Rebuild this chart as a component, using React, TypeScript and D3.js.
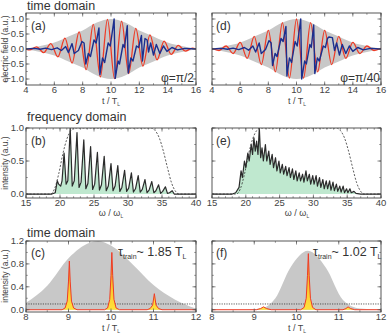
import React from 'react';
import * as d3 from 'd3';

type Pt = [number, number];

// ---- time domain, field (a) / (d) ----
const envelope: Pt[] = [
  [4, 0.02], [4.5, 0.05], [5, 0.1], [5.5, 0.15], [6, 0.22], [6.5, 0.31], [7, 0.42], [7.5, 0.52],
  [8, 0.62], [8.5, 0.76], [9, 0.88], [9.5, 0.97], [10, 1.0], [10.5, 0.97], [11, 0.88], [11.5, 0.76],
  [12, 0.62], [12.5, 0.52], [13, 0.42], [13.5, 0.31], [14, 0.22], [14.5, 0.15], [15, 0.1], [15.5, 0.05], [16, 0.02],
];

// driving field, extrema only (phi = pi/2)
const redA: Pt[] = [
  [4, 0], [4.25, -0.03], [4.75, 0.07], [5.25, -0.12], [5.75, 0.18], [6.25, -0.26], [6.75, 0.36], [7.25, -0.47],
  [7.75, 0.57], [8.25, -0.69], [8.75, 0.82], [9.25, -0.93], [9.75, 0.99], [10.25, -0.99], [10.75, 0.93],
  [11.25, -0.82], [11.75, 0.69], [12.25, -0.57], [12.75, 0.47], [13.25, -0.36], [13.75, 0.26], [14.25, -0.18],
  [14.75, 0.12], [15.25, -0.07], [15.75, 0.03], [16, 0],
];

// driving field, extrema only (phi = pi/40)
const redD: Pt[] = [
  [4, 0.02], [4.5, -0.05], [5, 0.1], [5.5, -0.15], [6, 0.22], [6.5, -0.31], [7, 0.42], [7.5, -0.52],
  [8, 0.62], [8.5, -0.76], [9, 0.88], [9.5, -0.97], [10, 1.0], [10.5, -0.97], [11, 0.88], [11.5, -0.76],
  [12, 0.62], [12.5, -0.52], [13, 0.42], [13.5, -0.31], [14, 0.22], [14.5, -0.15], [15, 0.1], [15.5, -0.05], [16, 0.02],
];

const blueA: Pt[] = [
  [4, 0], [4.6, 0.02], [5.0, -0.01], [5.4, 0.03], [5.8, -0.02], [6.2, 0.04], [6.5, -0.05], [6.8, 0.08],
  [7.0, -0.12], [7.25, 0.18], [7.4, -0.15], [7.7, -0.05], [7.95, 0.25], [8.1, 0.2], [8.22, -0.5], [8.4, -0.15],
  [8.55, -0.25], [8.8, 0.3], [8.95, 0.2], [9.15, 0.7], [9.22, -0.85], [9.4, -0.3], [9.55, -0.45], [9.8, 0.2],
  [9.95, 0.1], [10.22, 1.0], [10.3, -0.98], [10.5, -0.4], [10.6, -0.5], [10.85, 0.15], [10.95, 0.05],
  [11.15, 0.78], [11.22, -0.8], [11.4, -0.3], [11.55, -0.4], [11.8, 0.1], [11.95, 0.05], [12.15, 0.45],
  [12.22, -0.4], [12.4, 0.35], [12.55, 0.3], [12.65, -0.1], [12.8, 0.2], [13.0, -0.2], [13.2, 0.15],
  [13.45, -0.15], [13.7, 0.1], [13.95, -0.08], [14.3, 0.05], [14.7, -0.03], [15.2, 0.02], [16, 0],
];

const blueD: Pt[] = [
  [4, 0], [4.7, 0.02], [5.1, -0.01], [5.5, 0.03], [5.9, -0.02], [6.3, 0.05], [6.6, -0.04], [6.9, 0.1],
  [7.1, -0.1], [7.35, 0.2], [7.5, -0.15], [7.8, -0.02], [8.05, 0.28], [8.2, 0.2], [8.3, -0.55], [8.48, -0.15],
  [8.62, -0.25], [8.9, 0.35], [9.05, 0.25], [9.25, 0.75], [9.32, -0.9], [9.5, -0.3], [9.65, -0.45], [9.9, 0.25],
  [10.05, 0.1], [10.3, 1.0], [10.37, -1.0], [10.58, -0.4], [10.7, -0.5], [10.95, 0.15], [11.05, 0.05],
  [11.22, 0.8], [11.3, -0.82], [11.48, -0.3], [11.62, -0.4], [11.9, 0.1], [12.05, 0.05], [12.2, 0.35],
  [12.3, 0.4], [12.55, 0.38], [12.7, -0.05], [12.85, 0.2], [13.05, -0.2], [13.25, 0.15], [13.5, -0.15],
  [13.75, 0.1], [14.0, -0.08], [14.35, 0.05], [14.75, -0.03], [15.25, 0.02], [16, 0],
];

// ---- frequency domain (b) / (e) ----
const filterCurve: Pt[] = [
  [15, 0], [18.6, 0], [19.2, 0.08], [19.8, 0.3], [20.4, 0.6], [21, 0.83], [21.6, 0.96], [22.2, 1.0],
  [33.4, 1.0], [34, 0.96], [34.6, 0.85], [35.2, 0.65], [35.8, 0.4], [36.4, 0.17], [37, 0.04], [37.5, 0], [40, 0],
];

const spectrumB: Pt[] = [
  [15, 0], [18.8, 0], [19.3, 0.02], [19.6, 0.2], [19.8, 0.15], [20.1, 0.12], [20.3, 0.2], [20.6, 0.62],
  [20.9, 0.15], [21.15, 0.2], [21.5, 1.0], [21.8, 0.12], [22.1, 0.2], [22.5, 0.93], [22.8, 0.1], [23.1, 0.18],
  [23.5, 0.82], [23.8, 0.08], [24.1, 0.16], [24.5, 0.72], [24.8, 0.07], [25.1, 0.15], [25.5, 0.63],
  [25.8, 0.06], [26.1, 0.14], [26.5, 0.57], [26.8, 0.05], [27.1, 0.12], [27.5, 0.46], [27.8, 0.05],
  [28.1, 0.12], [28.5, 0.43], [28.8, 0.04], [29.1, 0.1], [29.5, 0.36], [29.8, 0.04], [30.1, 0.09],
  [30.5, 0.32], [30.8, 0.03], [31.1, 0.08], [31.5, 0.28], [31.8, 0.03], [32.1, 0.07], [32.5, 0.22],
  [32.8, 0.02], [33.1, 0.06], [33.5, 0.19], [33.8, 0.02], [34.1, 0.05], [34.5, 0.14], [34.8, 0.01],
  [35.1, 0.04], [35.5, 0.11], [35.8, 0.01], [36.1, 0.02], [36.5, 0.05], [36.8, 0], [40, 0],
];

const spectrumE: Pt[] = [
  [15, 0], [18, 0], [18.5, 0.02], [19.0, 0.1], [19.3, 0.35], [19.5, 0.25], [19.8, 0.5], [20.0, 0.4],
  [20.3, 0.62], [20.5, 0.5], [20.8, 0.75], [21.0, 0.6], [21.2, 0.85], [21.4, 0.65], [21.6, 0.8], [21.8, 0.6],
  [22.0, 1.0], [22.2, 0.55], [22.4, 0.7], [22.6, 0.5], [22.9, 0.75], [23.1, 0.5], [23.4, 0.65], [23.6, 0.45],
  [23.9, 0.6], [24.1, 0.4], [24.4, 0.55], [24.6, 0.35], [24.9, 0.5], [25.1, 0.32], [25.4, 0.45], [25.6, 0.3],
  [25.9, 0.42], [26.1, 0.28], [26.4, 0.4], [26.6, 0.25], [26.9, 0.38], [27.1, 0.22], [27.4, 0.35], [27.6, 0.2],
  [27.9, 0.32], [28.1, 0.2], [28.4, 0.3], [28.6, 0.18], [28.9, 0.35], [29.1, 0.2], [29.4, 0.3], [29.6, 0.15],
  [29.9, 0.28], [30.1, 0.15], [30.4, 0.28], [30.6, 0.12], [30.9, 0.25], [31.1, 0.1], [31.4, 0.22], [31.6, 0.08],
  [31.9, 0.2], [32.1, 0.08], [32.4, 0.2], [32.6, 0.06], [32.9, 0.18], [33.1, 0.05], [33.4, 0.15], [33.6, 0.04],
  [33.9, 0.12], [34.1, 0.03], [34.4, 0.12], [34.6, 0.02], [34.9, 0.08], [35.1, 0.02], [35.4, 0.08], [35.6, 0.02],
  [36.0, 0.04], [36.3, 0.01], [37, 0], [40, 0],
];

// ---- time domain, intensity (c) / (f) ----
const profileC: Pt[] = [
  [8, 0.12], [8.5, 0.42], [9, 0.9], [9.5, 1.17], [9.7, 1.2], [10, 1.12], [10.5, 0.8], [11, 0.43],
  [11.5, 0.18], [12, 0.02],
];
const profileF: Pt[] = [
  [8, 0], [8.8, 0], [9.2, 0.03], [9.5, 0.2], [9.85, 0.73], [10.27, 1.03], [10.7, 0.73], [11.1, 0.17],
  [11.5, 0.02], [12, 0],
];
const trainC: Pt[] = [
  [8, 0], [8.85, 0], [8.92, 0.03], [8.97, 0.15], [9.0, 0.5], [9.02, 0.85], [9.04, 0.5], [9.07, 0.15],
  [9.12, 0.03], [9.2, 0], [9.85, 0], [9.92, 0.03], [9.97, 0.18], [10.0, 0.6], [10.02, 1.0], [10.04, 0.6],
  [10.07, 0.18], [10.12, 0.03], [10.2, 0], [10.85, 0], [10.92, 0.02], [10.98, 0.08], [11.02, 0.28],
  [11.06, 0.08], [11.12, 0.02], [11.2, 0], [12, 0],
];
const trainF: Pt[] = [
  [8, 0], [9.05, 0], [9.15, 0.02], [9.22, 0.05], [9.29, 0.02], [9.4, 0], [10.1, 0], [10.18, 0.04],
  [10.23, 0.2], [10.26, 0.6], [10.28, 0.98], [10.3, 0.6], [10.33, 0.2], [10.38, 0.04], [10.46, 0],
  [11.1, 0], [11.17, 0.02], [11.22, 0.05], [11.28, 0.02], [11.38, 0], [12, 0],
];
const threshold = 0.1;

// tick values
const tTicksField = [4, 6, 8, 10, 12, 14, 16];
const fieldTicks = [-1, -0.5, 0, 0.5, 1];
const freqTicks = [15, 20, 25, 30, 35, 40];
const specTicks = [0, 0.5, 1];
const tTicksTrain = [8, 9, 10, 11, 12];
const intensTicks = [0, 0.4, 0.8, 1.2];

const FONT = '"Liberation Sans", Arial, Helvetica, sans-serif';
const GRAY = '#c8c8c8';
const RED = '#ee3b26';
const BLUE = '#1b2f8f';
const GREEN = '#bfe8cf';

const colL: [number, number] = [26, 196];
const colR: [number, number] = [212, 381];

type FrameProps = {
  id: string;
  x: d3.ScaleLinear<number, number>;
  y: d3.ScaleLinear<number, number>;
  xTicks: number[];
  yTicks: number[];
  xMinorStep: number;
  yMinorStep: number;
  yLabels: boolean;
  xFmt: (v: number) => string;
  yFmt: (v: number) => string;
  children?: React.ReactNode;
};

const Frame: React.FC<FrameProps> = ({ id, x, y, xTicks, yTicks, xMinorStep, yMinorStep, yLabels, xFmt, yFmt, children }) => {
  const [l, r] = x.range();
  const [b, t] = y.range();
  const [xd0, xd1] = x.domain();
  const [yd0, yd1] = y.domain();
  const xMinor = d3.range(Math.ceil(xd0 / xMinorStep) * xMinorStep, xd1 + 1e-9, xMinorStep);
  const yMinor = d3.range(Math.ceil(yd0 / yMinorStep) * yMinorStep, yd1 + 1e-9, yMinorStep);
  const tickCol = '#555';
  return (
    <g>
      <clipPath id={id}>
        <rect x={l} y={t} width={r - l} height={b - t} />
      </clipPath>
      <g clipPath={`url(#${id})`}>{children}</g>
      {xMinor.map((v, i) => (
        <g key={'xm' + i} stroke={tickCol} strokeWidth={0.6}>
          <line x1={x(v)} x2={x(v)} y1={b} y2={b - 1.8} />
          <line x1={x(v)} x2={x(v)} y1={t} y2={t + 1.8} />
        </g>
      ))}
      {yMinor.map((v, i) => (
        <g key={'ym' + i} stroke={tickCol} strokeWidth={0.6}>
          <line x1={l} x2={l + 1.8} y1={y(v)} y2={y(v)} />
          <line x1={r} x2={r - 1.8} y1={y(v)} y2={y(v)} />
        </g>
      ))}
      {xTicks.map((v, i) => (
        <g key={'x' + i}>
          <line x1={x(v)} x2={x(v)} y1={b} y2={b - 3.5} stroke={tickCol} strokeWidth={0.7} />
          <line x1={x(v)} x2={x(v)} y1={t} y2={t + 3.5} stroke={tickCol} strokeWidth={0.7} />
          <text x={x(v)} y={b + 8} textAnchor="middle" fontSize={9.5} fill="#444">{xFmt(v)}</text>
        </g>
      ))}
      {yTicks.map((v, i) => (
        <g key={'y' + i}>
          <line x1={l} x2={l + 3.5} y1={y(v)} y2={y(v)} stroke={tickCol} strokeWidth={0.7} />
          <line x1={r} x2={r - 3.5} y1={y(v)} y2={y(v)} stroke={tickCol} strokeWidth={0.7} />
          {yLabels && (
            <text x={l - 2} y={y(v) + 3.3} textAnchor="end" fontSize={9.5} fill="#444">{yFmt(v)}</text>
          )}
        </g>
      ))}
      <rect x={l} y={t} width={r - l} height={b - t} fill="none" stroke="#444" strokeWidth={0.9} />
    </g>
  );
};

const Sub: React.FC<{ base: string; sub: string; x: number; y: number; size?: number }> = ({ base, sub, x, y, size = 9 }) => (
  <text x={x} y={y} fontSize={size} textAnchor="middle" fill="#444">
    {base}
    <tspan fontSize={size * 0.55} dy={2}>{sub}</tspan>
  </text>
);

const App: React.FC = () => {
  const f1 = d3.format('.1f');
  const fInt = d3.format('d');

  const xA = d3.scaleLinear().domain([4, 16]).range(colL);
  const xD = d3.scaleLinear().domain([4, 16]).range(colR);
  const yTop = d3.scaleLinear().domain([-1.2, 1.2]).range([85, 13]);

  const xB = d3.scaleLinear().domain([15, 40]).range(colL);
  const xE = d3.scaleLinear().domain([15, 40]).range(colR);
  const yMid = d3.scaleLinear().domain([-0.06, 1.0]).range([198, 128]);

  const xC = d3.scaleLinear().domain([8, 12]).range(colL);
  const xF = d3.scaleLinear().domain([8, 12]).range(colR);
  const yBot = d3.scaleLinear().domain([-0.04, 1.2]).range([312, 241]);

  const envArea = (x: d3.ScaleLinear<number, number>) =>
    d3.area<Pt>().x(d => x(d[0])).y0(d => yTop(-d[1])).y1(d => yTop(d[1])).curve(d3.curveMonotoneX)(envelope) || '';
  const smooth = (x: d3.ScaleLinear<number, number>, y: d3.ScaleLinear<number, number>, pts: Pt[]) =>
    d3.line<Pt>().x(d => x(d[0])).y(d => y(d[1])).curve(d3.curveMonotoneX)(pts) || '';
  const straight = (x: d3.ScaleLinear<number, number>, y: d3.ScaleLinear<number, number>, pts: Pt[]) =>
    d3.line<Pt>().x(d => x(d[0])).y(d => y(d[1]))(pts) || '';
  const fill = (x: d3.ScaleLinear<number, number>, y: d3.ScaleLinear<number, number>, pts: Pt[], curve = d3.curveLinear) =>
    d3.area<Pt>().x(d => x(d[0])).y0(y(0)).y1(d => y(d[1])).curve(curve)(pts) || '';

  const fieldPanel = (id: string, x: d3.ScaleLinear<number, number>, red: Pt[], blue: Pt[], yLabels: boolean) => (
    <Frame id={id} x={x} y={yTop} xTicks={tTicksField} yTicks={fieldTicks} xMinorStep={1} yMinorStep={0.25}
      yLabels={yLabels} xFmt={fInt} yFmt={f1}>
      <path d={envArea(x)} fill={GRAY} />
      <path d={smooth(x, yTop, red)} fill="none" stroke={RED} strokeWidth={1.3} />
      <path d={straight(x, yTop, blue)} fill="none" stroke={BLUE} strokeWidth={1.4} strokeLinejoin="round" />
    </Frame>
  );

  const specPanel = (id: string, x: d3.ScaleLinear<number, number>, spec: Pt[], yLabels: boolean) => (
    <Frame id={id} x={x} y={yMid} xTicks={freqTicks} yTicks={specTicks} xMinorStep={1} yMinorStep={0.25}
      yLabels={yLabels} xFmt={fInt} yFmt={f1}>
      <path d={fill(x, yMid, spec)} fill={GREEN} />
      <path d={straight(x, yMid, spec)} fill="none" stroke="#2b2b2b" strokeWidth={1.2} strokeLinejoin="round" />
      <path d={smooth(x, yMid, filterCurve)} fill="none" stroke="#333" strokeWidth={0.8} strokeDasharray="2,1.6" />
    </Frame>
  );

  const trainPanel = (id: string, x: d3.ScaleLinear<number, number>, profile: Pt[], train: Pt[], yLabels: boolean) => (
    <Frame id={id} x={x} y={yBot} xTicks={tTicksTrain} yTicks={intensTicks} xMinorStep={0.5} yMinorStep={0.2}
      yLabels={yLabels} xFmt={fInt} yFmt={f1}>
      <path d={fill(x, yBot, profile, d3.curveMonotoneX)} fill={GRAY} />
      <line x1={x.range()[0]} x2={x.range()[1]} y1={yBot(threshold)} y2={yBot(threshold)}
        stroke="#333" strokeWidth={0.8} strokeDasharray="1.2,1.2" />
      <path d={fill(x, yBot, train)} fill="url(#spikeGrad)" />
      <path d={straight(x, yBot, train)} fill="none" stroke={RED} strokeWidth={1} strokeLinejoin="round" />
    </Frame>
  );

  return (
    <svg width={388} height={335} style={{ position: 'absolute', left: 0, top: 0, fontFamily: FONT }}>
      <defs>
        <linearGradient id="spikeGrad" x1="0" y1="0" x2="0" y2="1">
          <stop offset="0%" stopColor="#f39a1e" />
          <stop offset="100%" stopColor="#ffe23a" />
        </linearGradient>
      </defs>
      <rect width={388} height={335} fill="#fff" />

      {/* section headings */}
      <text x={27} y={10} fontSize={12.5} fill="#333">time domain</text>
      <text x={27} y={121} fontSize={12.5} fill="#333">frequency domain</text>
      <text x={27} y={237} fontSize={12.5} fill="#333">time domain</text>

      {fieldPanel('clipA', xA, redA, blueA, true)}
      {fieldPanel('clipD', xD, redD, blueD, false)}
      {specPanel('clipB', xB, spectrumB, true)}
      {specPanel('clipE', xE, spectrumE, false)}
      {trainPanel('clipC', xC, profileC, trainC, true)}
      {trainPanel('clipF', xF, profileF, trainF, false)}

      {/* panel tags */}
      <text x={31} y={30} fontSize={12} fill="#333">(a)</text>
      <text x={216} y={30} fontSize={12} fill="#333">(d)</text>
      <text x={31} y={145} fontSize={12} fill="#333">(b)</text>
      <text x={216} y={145} fontSize={12} fill="#333">(e)</text>
      <text x={31} y={257} fontSize={12} fill="#333">(c)</text>
      <text x={216} y={257} fontSize={12} fill="#333">(f)</text>

      <text x={194} y={82} fontSize={12} textAnchor="end" fill="#333">φ=π/2</text>
      <text x={380} y={82} fontSize={12} textAnchor="end" fill="#333">φ=π/40</text>

      <text x={118} y={256} fontSize={12.5} fill="#333">
        τ<tspan fontSize={7} dy={2.5}>train</tspan><tspan dy={-2.5}>~ 1.85 T</tspan><tspan fontSize={7} dy={2.5}>L</tspan>
      </text>
      <text x={313} y={256} fontSize={12.5} fill="#333">
        τ<tspan fontSize={7} dy={2.5}>train</tspan><tspan dy={-2.5}>~ 1.02 T</tspan><tspan fontSize={7} dy={2.5}>L</tspan>
      </text>

      {/* axis titles */}
      <Sub base="t / T" sub="L" x={111} y={104} />
      <Sub base="t / T" sub="L" x={297} y={104} />
      <Sub base="ω / ω" sub="L" x={111} y={216} />
      <Sub base="ω / ω" sub="L" x={297} y={216} />
      <Sub base="t / T" sub="L" x={111} y={331} />
      <Sub base="t / T" sub="L" x={297} y={331} />

      <text transform="translate(8,49) rotate(-90)" textAnchor="middle" fontSize={8.5} fill="#444">electric field (a.u.)</text>
      <text transform="translate(8,163) rotate(-90)" textAnchor="middle" fontSize={8.5} fill="#444">intensity (a.u.)</text>
      <text transform="translate(8,276) rotate(-90)" textAnchor="middle" fontSize={8.5} fill="#444">intensity (a.u.)</text>
    </svg>
  );
};

export default App;
